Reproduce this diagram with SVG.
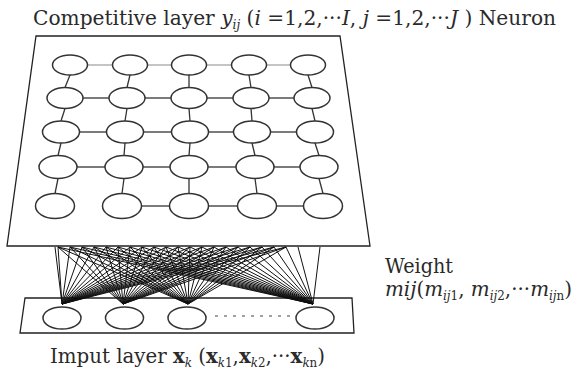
<svg xmlns="http://www.w3.org/2000/svg" width="575" height="374" viewBox="0 0 575 374">
<style>
text{font-family:"DejaVu Serif","Liberation Serif",serif;font-size:20px;fill:#2a2a2a}
.i{font-style:italic}
.b{font-weight:bold}
.plane{fill:#fff;stroke:#222;stroke-width:1.3}
.n{fill:#fff;stroke:#333;stroke-width:1.5}
.g{stroke:#333;stroke-width:1.3;fill:none}
.g1{stroke:#8a8a8a;stroke-width:1;fill:none}
.w{stroke:#111;stroke-width:1;fill:none}
.dots{stroke:#444;stroke-width:1.2;stroke-dasharray:3 6;fill:none}
</style>
<rect width="575" height="374" fill="#fff"/>
<g id="competitive-layer">
<polygon class="plane" points="36,36 340,36 370,246 7,246"/>
</g>
<g id="input-layer">
<polygon class="plane" points="25,298 352,298 354,333 20,333"/>
</g>
<g id="connectors">
<g class="g1">
<line x1="87.5" y1="65" x2="112.5" y2="65"/><line x1="147.5" y1="65" x2="171.5" y2="65"/><line x1="206.5" y1="65" x2="231.5" y2="65"/><line x1="266.5" y1="65" x2="290.5" y2="65"/>
</g>
<g class="g">
<line x1="83" y1="98" x2="109" y2="98"/><line x1="145" y1="98" x2="171" y2="98"/><line x1="207" y1="98" x2="233" y2="98"/><line x1="269" y1="98" x2="294" y2="98"/>
<line x1="79.5" y1="132" x2="106.5" y2="132"/><line x1="143.5" y1="132" x2="171.5" y2="132"/><line x1="208.5" y1="132" x2="233.5" y2="132"/><line x1="270.5" y1="132" x2="296.5" y2="132"/>
<line x1="77" y1="167" x2="105" y2="167"/><line x1="143" y1="167" x2="170" y2="167"/><line x1="208" y1="167" x2="236" y2="167"/><line x1="274" y1="167" x2="300" y2="167"/>
<line x1="141.5" y1="206" x2="169.5" y2="206"/><line x1="208.5" y1="206" x2="237.5" y2="206"/><line x1="276.5" y1="206" x2="303.5" y2="206"/>
<line x1="70" y1="75" x2="65" y2="87.5"/><line x1="130" y1="75" x2="127" y2="87.5"/><line x1="189" y1="75" x2="189" y2="87.5"/><line x1="249" y1="75" x2="251" y2="87.5"/><line x1="308" y1="75" x2="312" y2="87.5"/>
<line x1="65" y1="108.5" x2="61" y2="121"/><line x1="127" y1="108.5" x2="125" y2="121"/><line x1="189" y1="108.5" x2="190" y2="121"/><line x1="251" y1="108.5" x2="252" y2="121"/><line x1="312" y1="108.5" x2="315" y2="121"/>
<line x1="61" y1="143" x2="58" y2="155.5"/><line x1="125" y1="143" x2="124" y2="155.5"/><line x1="190" y1="143" x2="189" y2="155.5"/><line x1="252" y1="143" x2="255" y2="155.5"/><line x1="315" y1="143" x2="319" y2="155.5"/>
<line x1="58" y1="178.5" x2="55" y2="193.5"/><line x1="124" y1="178.5" x2="122" y2="193.5"/><line x1="189" y1="178.5" x2="189" y2="193.5"/><line x1="255" y1="178.5" x2="257" y2="193.5"/><line x1="319" y1="178.5" x2="323" y2="193.5"/>
</g>
<g class="w">
<path d="M62,304L55,247M62,304L58,247M62,304L70,247M62,304L82,247M62,304L94,247M62,304L106,247M62,304L118,247M62,304L130,247M62,304L142,247M62,304L154,247M62,304L166,247M62,304L178,247M62,304L190,247M62,304L202,247M62,304L214,247M62,304L226,247M62,304L238,247M62,304L250,247M62,304L262,247M62,304L274,247M62,304L286,247"/>
<path d="M123,304L58,247M123,304L70,247M123,304L82,247M123,304L94,247M123,304L106,247M123,304L118,247M123,304L130,247M123,304L142,247M123,304L154,247M123,304L166,247M123,304L178,247M123,304L190,247M123,304L202,247M123,304L214,247M123,304L226,247M123,304L238,247M123,304L250,247M123,304L262,247M123,304L274,247M123,304L286,247"/>
<path d="M188,304L58,247M188,304L70,247M188,304L82,247M188,304L94,247M188,304L106,247M188,304L118,247M188,304L130,247M188,304L142,247M188,304L154,247M188,304L166,247M188,304L178,247M188,304L190,247M188,304L202,247M188,304L214,247M188,304L226,247M188,304L238,247M188,304L250,247M188,304L262,247M188,304L274,247M188,304L286,247"/>
<path d="M313,304L58,247M313,304L70,247M313,304L82,247M313,304L94,247M313,304L106,247M313,304L118,247M313,304L130,247M313,304L142,247M313,304L154,247M313,304L166,247M313,304L178,247M313,304L190,247M313,304L202,247M313,304L214,247M313,304L226,247M313,304L238,247M313,304L250,247M313,304L262,247M313,304L274,247M313,304L286,247M313,304L298,247M313,304L320,247"/>
</g>
<line class="dots" x1="215" y1="316" x2="292" y2="316"/>
</g>
<g id="neurons">
<ellipse class="n" cx="70" cy="65" rx="17.5" ry="10"/><ellipse class="n" cx="130" cy="65" rx="17.5" ry="10"/><ellipse class="n" cx="189" cy="65" rx="17.5" ry="10"/><ellipse class="n" cx="249" cy="65" rx="17.5" ry="10"/><ellipse class="n" cx="308" cy="65" rx="17.5" ry="10"/>
<ellipse class="n" cx="65" cy="98" rx="18" ry="10.5"/><ellipse class="n" cx="127" cy="98" rx="18" ry="10.5"/><ellipse class="n" cx="189" cy="98" rx="18" ry="10.5"/><ellipse class="n" cx="251" cy="98" rx="18" ry="10.5"/><ellipse class="n" cx="312" cy="98" rx="18" ry="10.5"/>
<ellipse class="n" cx="61" cy="132" rx="18.5" ry="11"/><ellipse class="n" cx="125" cy="132" rx="18.5" ry="11"/><ellipse class="n" cx="190" cy="132" rx="18.5" ry="11"/><ellipse class="n" cx="252" cy="132" rx="18.5" ry="11"/><ellipse class="n" cx="315" cy="132" rx="18.5" ry="11"/>
<ellipse class="n" cx="58" cy="167" rx="19" ry="11.5"/><ellipse class="n" cx="124" cy="167" rx="19" ry="11.5"/><ellipse class="n" cx="189" cy="167" rx="19" ry="11.5"/><ellipse class="n" cx="255" cy="167" rx="19" ry="11.5"/><ellipse class="n" cx="319" cy="167" rx="19" ry="11.5"/>
<ellipse class="n" cx="55" cy="206" rx="19.5" ry="12.5"/><ellipse class="n" cx="122" cy="206" rx="19.5" ry="12.5"/><ellipse class="n" cx="189" cy="206" rx="19.5" ry="12.5"/><ellipse class="n" cx="257" cy="206" rx="19.5" ry="12.5"/><ellipse class="n" cx="323" cy="206" rx="19.5" ry="12.5"/>
</g>
<g id="inputs">
<ellipse class="n" cx="62" cy="318" rx="19" ry="11"/><ellipse class="n" cx="124.5" cy="318" rx="19" ry="11"/><ellipse class="n" cx="187" cy="318" rx="19" ry="11"/><ellipse class="n" cx="315" cy="318" rx="19" ry="11"/>
</g>
<g id="labels">
<text x="33" y="25" font-size="19" textLength="523" lengthAdjust="spacingAndGlyphs">Competitive layer <tspan class="i">y</tspan><tspan class="i" font-size="12" dy="4">ij</tspan><tspan dy="-4"> (</tspan><tspan class="i">i</tspan> =1,2,···<tspan class="i">I</tspan>, <tspan class="i">j</tspan> =1,2,···<tspan class="i">J</tspan> ) Neuron</text>
<text x="385" y="273" textLength="68" lengthAdjust="spacingAndGlyphs">Weight</text>
<text x="385" y="296" font-size="19" textLength="187" lengthAdjust="spacingAndGlyphs"><tspan class="i">mij</tspan>(<tspan class="i">m</tspan><tspan class="i" font-size="12" dy="4">ij</tspan><tspan font-size="12">1</tspan><tspan dy="-4">, </tspan><tspan class="i">m</tspan><tspan class="i" font-size="12" dy="4">ij</tspan><tspan font-size="12">2</tspan><tspan dy="-4">,···</tspan><tspan class="i">m</tspan><tspan class="i" font-size="12" dy="4">ij</tspan><tspan font-size="12">n</tspan><tspan dy="-4">)</tspan></text>
<text x="50" y="363" font-size="19" textLength="275" lengthAdjust="spacingAndGlyphs">Imput layer <tspan class="b">x</tspan><tspan class="i" font-size="12" dy="4">k</tspan><tspan dy="-4"> (</tspan><tspan class="b">x</tspan><tspan class="i" font-size="12" dy="4">k</tspan><tspan font-size="12">1</tspan><tspan dy="-4">,</tspan><tspan class="b">x</tspan><tspan class="i" font-size="12" dy="4">k</tspan><tspan font-size="12">2</tspan><tspan dy="-4">,···</tspan><tspan class="b">x</tspan><tspan class="i" font-size="12" dy="4">k</tspan><tspan font-size="12">n</tspan><tspan dy="-4">)</tspan></text>
</g>
</svg>
